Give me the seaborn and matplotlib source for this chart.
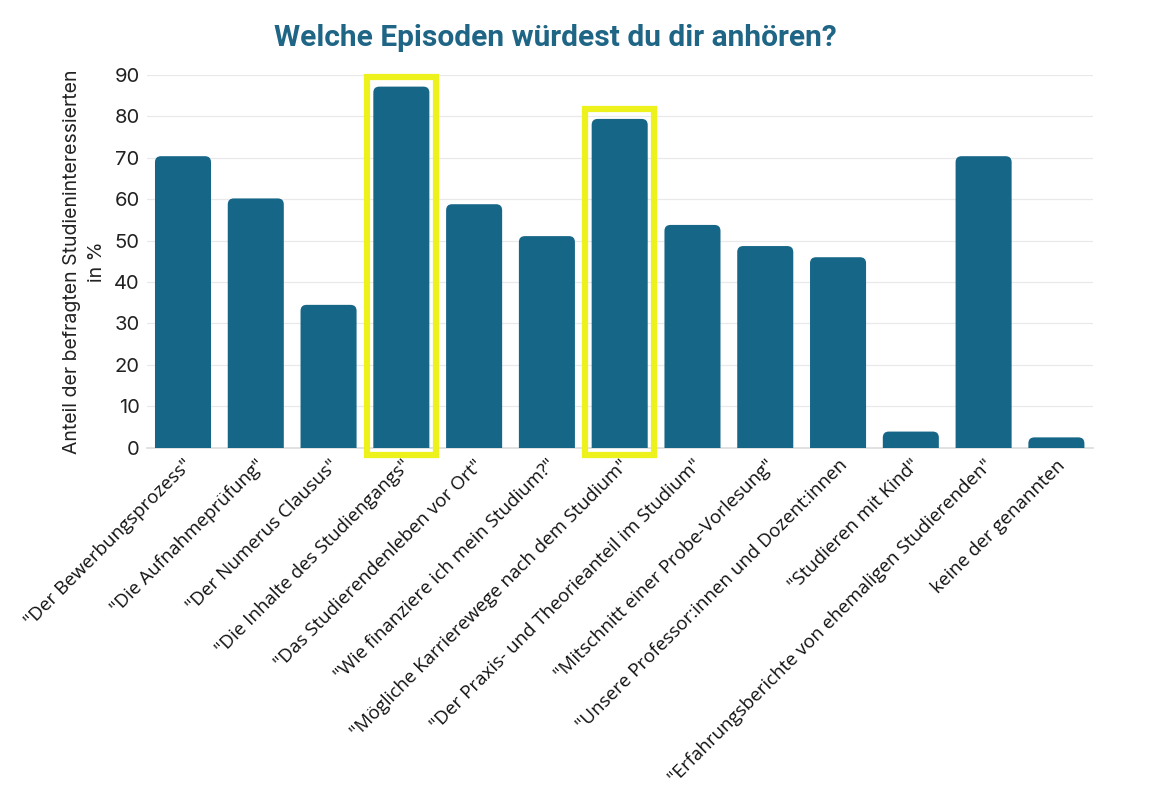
import matplotlib.pyplot as plt
import pandas as pd
import seaborn as sns
from matplotlib.patches import FancyBboxPatch, Rectangle

episoden = [
    '"Der Bewerbungsprozess"',
    '"Die Aufnahmeprüfung"',
    '"Der Numerus Clausus"',
    '"Die Inhalte des Studiengangs"',
    '"Das Studierendenleben vor Ort"',
    '"Wie finanziere ich mein Studium?"',
    '"Mögliche Karrierewege nach dem Studium"',
    '"Der Praxis- und Theorieanteil im Studium"',
    '"Mitschnitt einer Probe-Vorlesung"',
    '"Unsere Professor:innen und Dozent:innen',
    '"Studieren mit Kind"',
    '"Erfahrungsberichte von ehemaligen Studierenden"',
    'keine der genannten',
]
anteil = [70.4, 60.2, 34.5, 87.2, 58.8, 51.1, 79.4, 53.8, 48.7, 46.0, 3.9, 70.4, 2.5]
markiert = ['"Die Inhalte des Studiengangs"', '"Mögliche Karrierewege nach dem Studium"']

df = pd.DataFrame({'episode': episoden, 'anteil': anteil})

blau = '#166688'
gelb = '#eef21c'

sns.set_theme(style='white')
plt.rcParams['font.family'] = ['Open Sans', 'DejaVu Sans']

fig = plt.figure(figsize=(11.7, 7.93), dpi=100)
ax = fig.add_axes([0.1253, 0.4354, 0.8087, 0.47])

sns.barplot(data=df, x='episode', y='anteil', color=blau, width=0.77,
            saturation=1, ax=ax, zorder=3)

ax.set_ylim(0, 90)
ax.set_yticks(range(0, 91, 10))

# rounded tops: replace the plain bars
px_x = 1 / 72.8
px_y = 90 / 372.7
for p in list(ax.patches):
    x, w, h = p.get_x(), p.get_width(), p.get_height()
    p.remove()
    ax.add_patch(FancyBboxPatch((x, -3), w, h + 3,
                                boxstyle=f'round,pad=0,rounding_size={6 * px_x}',
                                mutation_aspect=px_y / px_x,
                                facecolor=blau, edgecolor='none', zorder=3))

# yellow frames around the highlighted bars
for name in markiert:
    i = episoden.index(name)
    ax.add_patch(Rectangle((i - 0.47, -1.8), 0.94, anteil[i] + 2.3 + 1.8,
                           fill=False, edgecolor=gelb, linewidth=4.5,
                           clip_on=False, zorder=4))

ax.yaxis.grid(True, color='#e9e9ec', linewidth=0.9, zorder=0)
sns.despine(ax=ax, left=True, right=True, top=True, bottom=False)
ax.spines['bottom'].set_color('#dddddd')
ax.tick_params(axis='both', length=0)
ax.tick_params(axis='y', labelsize=14.5, labelcolor='#222222', pad=5)
for t in ax.get_yticklabels():
    t.set_family(['Inter', 'DejaVu Sans'])
ax.set_xlabel('')
ax.set_ylabel('Anteil der befragten Studieninteressierten\nin %', fontsize=14,
              color='#222222', linespacing=1.45, labelpad=6,
              family=['Inter', 'DejaVu Sans'])
plt.setp(ax.get_xticklabels(), rotation=45, ha='right', rotation_mode='anchor',
         fontsize=13.5, color='#111111')
ax.tick_params(axis='x', pad=6)

fig.suptitle('Welche Episoden würdest du dir anhören?', x=0.475, y=0.97,
             fontsize=21.5, fontweight='bold', color='#1f6585',
             family=['Roboto', 'DejaVu Sans'])

fig.savefig('out.png', dpi=100)
